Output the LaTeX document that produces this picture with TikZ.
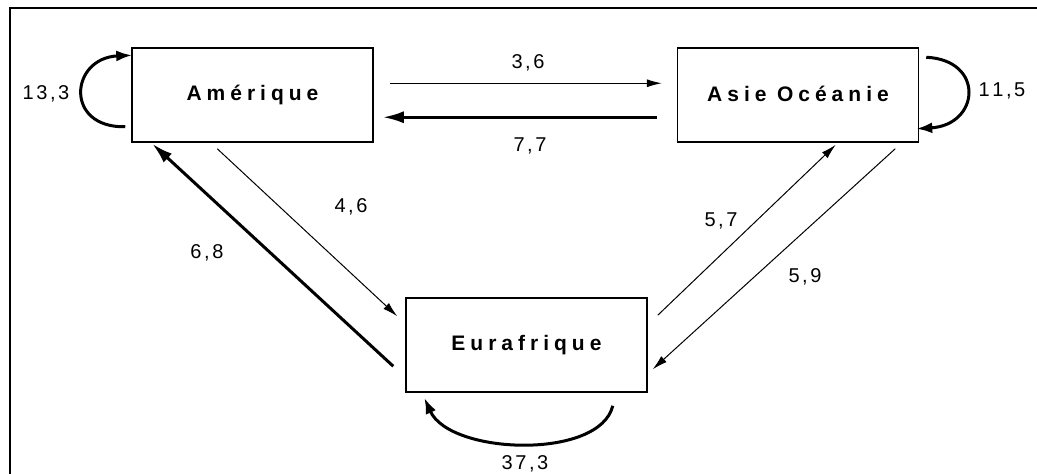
\documentclass[tikz,border=0pt]{standalone}
\usepackage{fontspec}
\setmainfont{Liberation Sans}
\usetikzlibrary{arrows.meta,calc}
\makeatletter
\newcommand\spacedtxt[2]{\@tfor\spc@ch:=#2\do{\spc@ch\kern#1}\unkern}
\makeatother
\newcommand\bx[1]{\spacedtxt{5pt}{#1}}
\newcommand\nm[1]{\spacedtxt{2.6pt}{#1}}
\begin{document}
\begin{tikzpicture}[x=1pt,y=-1pt,
  region/.style={draw, line width=1.5pt, minimum width=241pt, minimum height=94pt, inner sep=0pt,
    font=\bfseries\fontsize{21}{23}\selectfont},
  lbl/.style={inner sep=0pt, font=\fontsize{20}{22}\selectfont},
  thin/.style={line width=1pt, -{Latex[length=15pt,width=8pt]}},
  thick/.style={line width=3pt, -{Latex[length=21pt,width=12pt]}},
  loop/.style={line width=3pt, -{Latex[length=16pt,width=11pt]}}]
\useasboundingbox (0,0) rectangle (1037,474);
\fill[white] (0,0) rectangle (1037,474);
\draw[line width=2pt] (1037,8) -- (10,8) -- (10,474);

\node[region] (am) at (252.5,95) {\raisebox{-4pt}{\bx{Amérique}}};
\node[region] (as) at (798,95) {\raisebox{1.5pt}{\bx{Asie}\kern10.5pt\bx{Océanie}}};
\node[region] (eu) at (526.5,345) {\raisebox{1.5pt}{\bx{Eurafrique}}};

% horizontal flows
\draw[thin] ($(am.north east)+(16,36)$) -- ($(as.north west)+(-15,36)$);
\draw[thick] ($(as.north west)+(-20,70)$) -- ($(am.north east)+(9,70)$);
% left diagonals
\draw[thin] ($(am.south west)+(86,6)$) -- ($(eu.north west)+(-8,19)$);
\draw[thick] ($(eu.north west)+(-12,69)$) -- ($(am.south west)+(21,1)$);
% right diagonals
\draw[thin] ($(eu.north east)+(10,18)$) -- ($(as.south west)+(159,2)$);
\draw[thin] ($(as.south east)+(-24,6)$) -- ($(eu.north east)+(5,72)$);
% self loops
\draw[loop] ($(am.south west)+(-6,-16)$) .. controls (64,128) and (70,58) .. ($(am.north west)+(1,8)$);
\draw[loop] ($(as.north east)+(7,10)$) .. controls (985,60) and (980,125) .. ($(as.south east)+(-3,-14)$);
\draw[loop] ($(eu.south east)+(-35,13)$) .. controls (600,460) and (450,455) .. ($(eu.south west)+(19,5)$);

% labels
\node[lbl] (l133) at (46,94) {\nm{13,3}};
\node[lbl] (l36) at (528,63) {\nm{3,6}};
\node[lbl] (l77) at (530,146) {\nm{7,7}};
\node[lbl] (l115) at (1002,91) {\nm{11,5}};
\node[lbl] (l46) at (351,207) {\nm{4,6}};
\node[lbl] (l68) at (207,253) {\nm{6,8}};
\node[lbl] (l57) at (721,221) {\nm{5,7}};
\node[lbl] (l59) at (805,277) {\nm{5,9}};
\node[lbl] (l373) at (525,464) {\nm{37,3}};
\end{tikzpicture}
\end{document}
